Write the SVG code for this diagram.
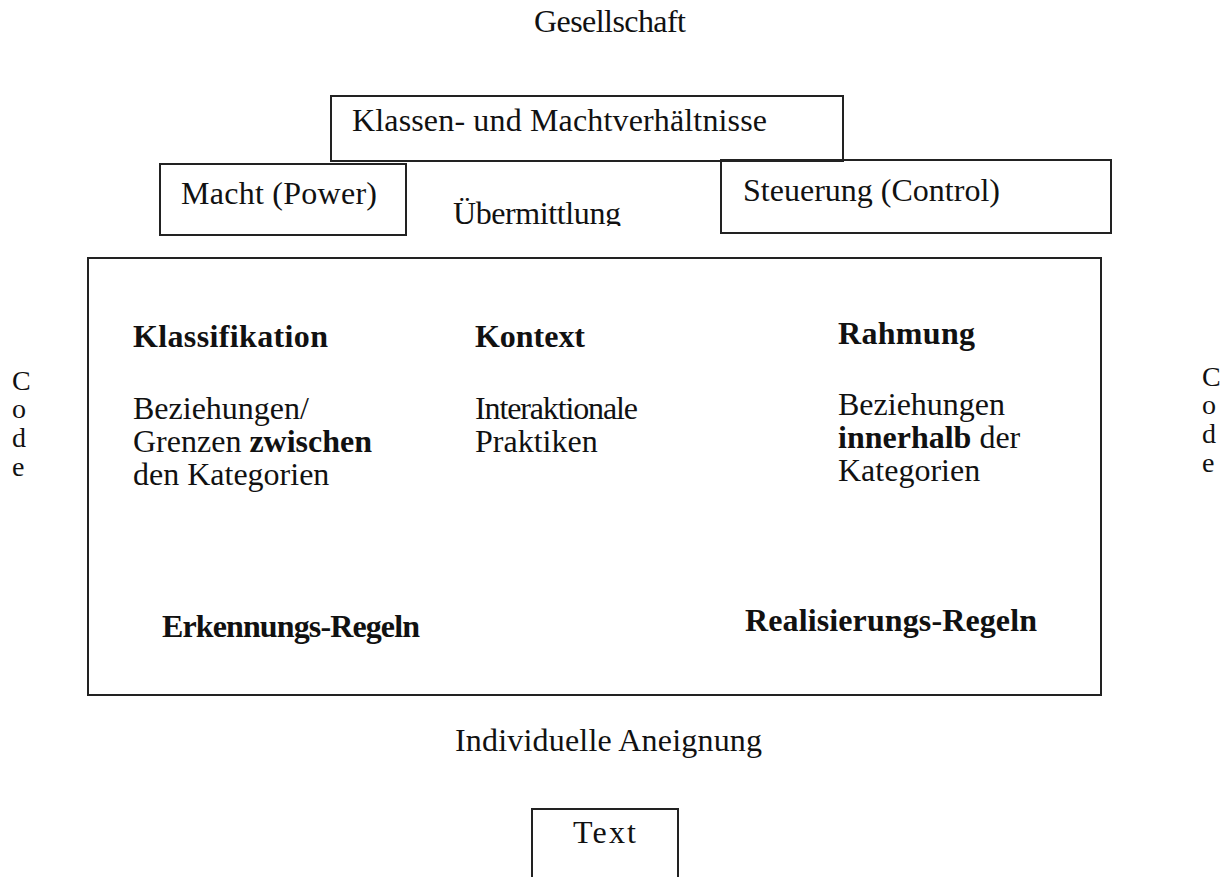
<svg xmlns="http://www.w3.org/2000/svg" width="1221" height="877" viewBox="0 0 1221 877">
  <defs>
    <style>
      text { font-family: "Liberation Serif", "Times New Roman", serif; font-size: 32px; fill: #111; }
      .b { font-weight: bold; }
      .code { font-size: 28px; }
      .box { fill: none; stroke: #222; stroke-width: 2; }
    </style>
    <clipPath id="clipUeb"><rect x="430" y="180" width="220" height="46"/></clipPath>
  </defs>
  <rect width="1221" height="877" fill="#fff"/>

  <g id="gesellschaft"><text x="534" y="32" textLength="152">Gesellschaft</text></g>

  <g id="klassen">
    <rect class="box" x="331" y="96" width="512" height="65"/>
    <text x="352" y="131" textLength="415">Klassen- und Machtverhältnisse</text>
  </g>

  <g id="macht">
    <rect class="box" x="160" y="164" width="246" height="71"/>
    <text x="181" y="204" textLength="196">Macht (Power)</text>
  </g>

  <g id="uebermittlung" clip-path="url(#clipUeb)">
    <text x="453" y="224" textLength="168">Übermittlung</text>
  </g>

  <g id="steuerung">
    <rect class="box" x="721" y="160" width="390" height="73"/>
    <text x="743" y="201" textLength="257">Steuerung (Control)</text>
  </g>

  <g id="code-left">
    <text class="code" x="12" y="390">C</text>
    <text class="code" x="12" y="418">o</text>
    <text class="code" x="12" y="447">d</text>
    <text class="code" x="12" y="476">e</text>
  </g>

  <g id="code-right">
    <text class="code" x="1202" y="386">C</text>
    <text class="code" x="1202" y="414">o</text>
    <text class="code" x="1202" y="443">d</text>
    <text class="code" x="1202" y="472">e</text>
  </g>

  <g id="hauptbox">
    <rect class="box" x="88" y="258" width="1013" height="437"/>
    <g id="klassifikation">
      <text class="b" x="133" y="347" textLength="195">Klassifikation</text>
      <text x="133" y="419">Beziehungen/</text>
      <text x="133" y="452">Grenzen <tspan class="b">zwischen</tspan></text>
      <text x="133" y="485">den Kategorien</text>
    </g>
    <g id="kontext">
      <text class="b" x="475" y="347" textLength="110">Kontext</text>
      <text x="475" y="419" textLength="163">Interaktionale</text>
      <text x="475" y="452">Praktiken</text>
    </g>
    <g id="rahmung">
      <text class="b" x="838" y="344" textLength="137">Rahmung</text>
      <text x="838" y="415">Beziehungen</text>
      <text x="838" y="448"><tspan class="b">innerhalb</tspan> der</text>
      <text x="838" y="481">Kategorien</text>
    </g>
    <g id="erkennung"><text class="b" x="162" y="637" textLength="258">Erkennungs-Regeln</text></g>
    <g id="realisierung"><text class="b" x="745" y="631" textLength="292">Realisierungs-Regeln</text></g>
  </g>

  <g id="aneignung"><text x="455" y="751" textLength="307">Individuelle Aneignung</text></g>

  <g id="text-node">
    <rect class="box" x="532" y="809" width="146" height="90"/>
    <text x="573" y="843" textLength="63">Text</text>
  </g>

  <g id="connectors"></g>
</svg>
